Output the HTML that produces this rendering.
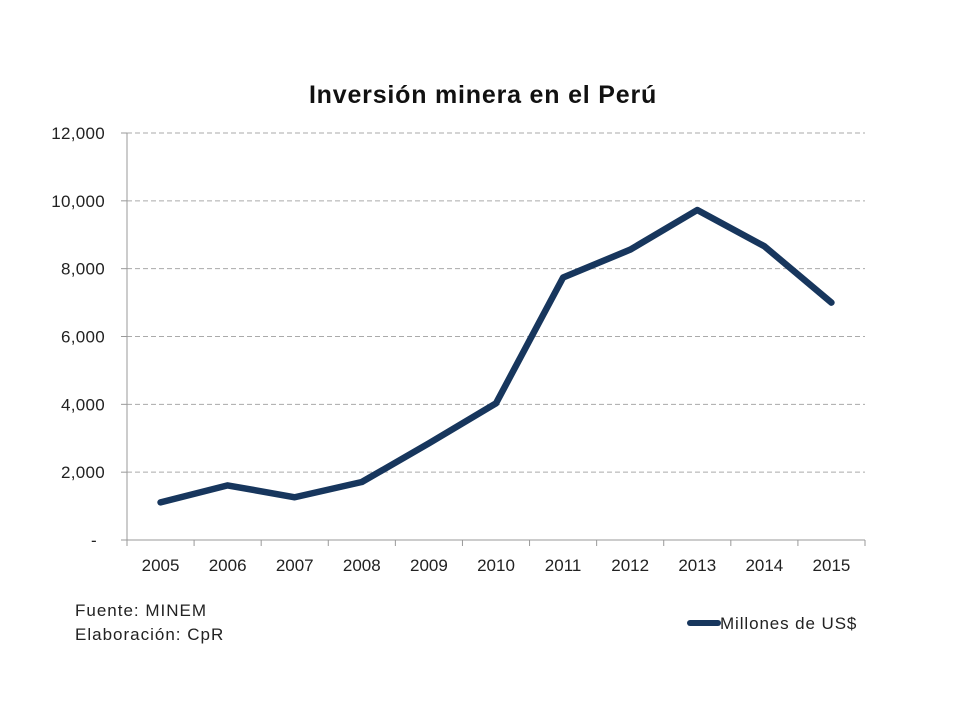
<!DOCTYPE html>
<html><head><meta charset="utf-8"><style>
body{margin:0;background:#fff;}
svg{display:block;font-family:"Liberation Sans",sans-serif;}
</style></head><body>
<svg id="c" width="960" height="720">
<text x="483" y="103" text-anchor="middle" font-size="25" font-weight="bold" letter-spacing="0.8" fill="#111">Inversión minera en el Perú</text>
<g id="grid"></g><g id="axes"></g><g id="series"></g>
<text x="75" y="616" font-size="17" letter-spacing="1" fill="#222">Fuente: MINEM</text>
<text x="75" y="640" font-size="17" letter-spacing="1" fill="#222">Elaboración: CpR</text>
<g>
<line x1="690" y1="623" x2="718" y2="623" stroke="#17365d" stroke-width="6" stroke-linecap="round"/>
<text x="720" y="629" font-size="17" letter-spacing="0.9" fill="#222">Millones de US$</text>
</g>
</svg>
<script>
const categories=["2005","2006","2007","2008","2009","2010","2011","2012","2013","2014","2015"];
const values=[1110,1610,1260,1710,2850,4030,7740,8560,9730,8660,7000];
const yTicks=[0,2000,4000,6000,8000,10000,12000];
const yTickLabels=["-","2,000","4,000","6,000","8,000","10,000","12,000"];
const NS="http://www.w3.org/2000/svg";
const L=127,R=865,T=133,B=540,yMax=12000;
const bw=(R-L)/categories.length;
const xs=i=>L+bw*(i+0.5);
const ys=v=>B-(v/yMax)*(B-T);
function mk(tag,at,parent){const e=document.createElementNS(NS,tag);for(const k in at)e.setAttribute(k,at[k]);document.getElementById(parent).appendChild(e);return e;}
yTicks.forEach((t,i)=>{
 if(t>0){const g=mk("line",{x1:L,x2:R,y1:ys(t),y2:ys(t),stroke:"#aaa","stroke-dasharray":"5,3"},"grid");
 
 }
 const tx=mk("text",{x:i==0?97:105,y:ys(t)+6,"text-anchor":"end","font-size":"17","letter-spacing":"0.3",fill:"#222"},"axes");
 tx.textContent=yTickLabels[i];
 
 
 const tk=mk("line",{x1:L-6,x2:L,y1:ys(t),y2:ys(t),stroke:"#999"},"axes");
 
 
});
const ya=mk("line",{x1:L,x2:L,y1:T,y2:B,stroke:"#999"},"axes");


const xa=mk("line",{x1:L,x2:R,y1:B,y2:B,stroke:"#999"},"axes");


for(let i=0;i<=categories.length;i++){const tk=mk("line",{x1:L+bw*i,x2:L+bw*i,y1:B,y2:B+6,stroke:"#999"},"axes");
 
 }
categories.forEach((c,i)=>{const tx=mk("text",{x:xs(i),y:571,"text-anchor":"middle","font-size":"17",fill:"#222"},"axes");
 tx.textContent=c;
 
 });
const p=mk("polyline",{points:values.map((v,i)=>xs(i)+","+ys(v)).join(" "),fill:"none",stroke:"#17365d","stroke-width":"6.5","stroke-linejoin":"round","stroke-linecap":"round"},"series");


</script>
</body></html>
